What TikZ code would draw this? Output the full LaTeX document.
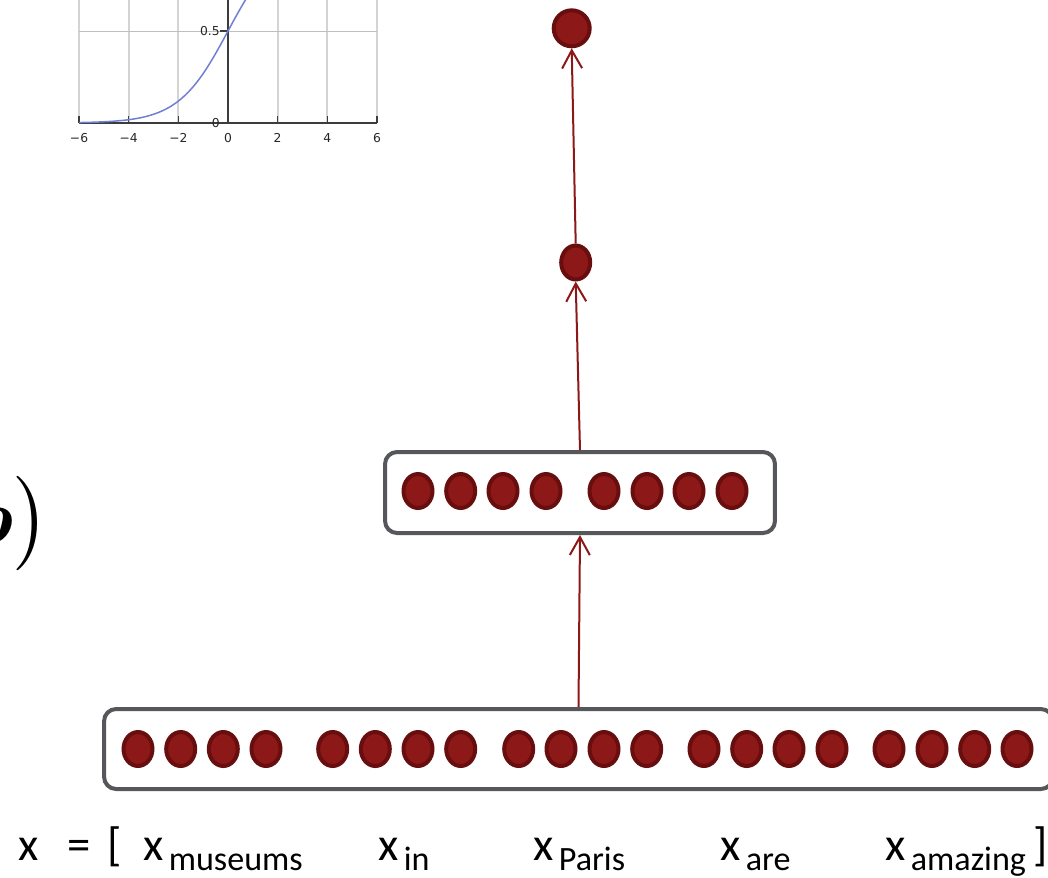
\documentclass[tikz,border=0pt]{standalone}
\usepackage{amsmath}
\usepackage{fontspec}
\setmainfont{Carlito}
\newfontfamily\plotfont{DejaVu Sans}
\usepackage{tikz}
\usetikzlibrary{arrows.meta}
\usetikzlibrary{positioning, shapes.geometric}

\definecolor{cellred}{RGB}{140,24,24}
\definecolor{celledge}{RGB}{104,14,14}
\definecolor{boxgray}{RGB}{86,87,91}
\definecolor{sigblue}{RGB}{110,128,210}
\definecolor{gridgray}{RGB}{212,212,212}
\definecolor{axisgray}{RGB}{60,60,60}

\newcommand{\wordsub}[1]{x\kern3pt\raisebox{-5.7pt}{\fontsize{19.4}{22}\selectfont #1}}

\tikzset{
    neuron/.style={ellipse, draw=celledge, fill=cellred, line width=0.08cm,
        minimum width=0.58cm, minimum height=0.68cm, inner sep=0pt},
    outneuron/.style={neuron, minimum width=0.72cm, minimum height=0.72cm},
    layerbox/.style={draw=boxgray, line width=0.08cm, rounded corners=0.24cm,
        inner sep=0pt},
    feedarrow/.style={draw=cellred, line width=0.04cm,
        -{Straight Barb[length=0.36cm, width=0.4cm, line width=0.04cm]}},
    lbl/.style={anchor=base west, inner sep=0pt, font=\fontsize{26.6}{30}\selectfont},
    ticklbl/.style={inner sep=0pt, text=black!85, font=\plotfont\fontsize{7}{8}\selectfont},
}

\begin{document}
\begin{tikzpicture}[x=0.02cm, y=-0.02cm]
    \path[use as bounding box, clip] (0,0) rectangle (1048,877);

    % logistic curve, top left
    \begin{scope}[shift={(228,123)}, x=0.4966cm, y=3.68cm]
        \foreach \v in {-6,-4,-2,2,4,6}
            \draw[gridgray, line width=0.04cm] (\v,0) -- (\v,0.8);
        \draw[black!25, line width=0.02cm] (-6,0.5) -- (6,0.5);
        \draw[axisgray, line width=0.035cm] (0,0) -- (0,0.8);
        \draw[axisgray, line width=0.03cm] (-6,0) -- (6,0);
        \foreach \v in {-6,-4,-2,2,4,6}
            \draw[axisgray, line width=0.03cm] (\v,0) -- (\v,0.038);
        \draw[axisgray, line width=0.03cm] (0,0) -- (-0.32,0);
        \draw[axisgray, line width=0.03cm] (0,0.5) -- (-0.32,0.5);
        \foreach \v/\t [count=\i] in {-6/{−6},-4/{−4},-2/{−2},0/0,2/2,4/4,6/6}
            \node[ticklbl] (tick\i) at (\v,-0.08) {\t};
        \node[ticklbl, anchor=east] (yhalf) at (-0.32,0.5) {0.5};
        \node[ticklbl, anchor=east] (yzero) at (-0.32,0) {0};
        \draw[sigblue, line width=0.03cm] plot[domain=-6:1.5, samples=90] (\x,{1/(1+exp(-\x))});
    \end{scope}

    % tail of the formula
    \node[anchor=base east, inner sep=0pt, scale=1.8, font=\fontsize{24.88}{30}\selectfont] (bias) at (50,543)
        {$\boldsymbol{b}\bigr)$};

    % layers
    \node[layerbox, minimum width=18.98cm, minimum height=1.6cm] (embbox) at (578.5,749) {};
    \foreach \px [count=\i] in {138,180.7,223.3,266,332.7,375.3,418,460.7,518.7,561,
                                604,646.7,704,746.7,789,832,889,932,974.7,1017}
        \node[neuron] (e\i) at (\px,749) {};

    \node[layerbox, minimum width=7.8cm, minimum height=1.62cm] (hidbox) at (580,492.5) {};
    \foreach \px [count=\i] in {418,460.7,503,546,604,647,689,732}
        \node[neuron] (h\i) at (\px,491) {};

    \node[neuron] (hid2) at (575.7,262.5) {};
    \node[outneuron] (out) at (571.7,28.3) {};

    \draw[feedarrow] (embbox.north) -- (hidbox.south);
    \draw[feedarrow] (hidbox.north) -- (hid2.south);
    \draw[feedarrow] (hid2.north) -- (out.south);

    % input words
    \node[lbl] (xvec) at (18,860) {x};
    \node[lbl] (xeq) at (67,860) {=};
    \node[lbl] (xopen) at (107,860) {[};
    \node[lbl] (wmuseums) at (143,860) {\wordsub{museums}};
    \node[lbl] (win) at (378,860) {\wordsub{in}};
    \node[lbl] (wparis) at (533,860) {\wordsub{Paris}};
    \node[lbl] (ware) at (720,860) {\wordsub{are}};
    \node[lbl] (wamazing) at (885,860) {\wordsub{amazing}};
    \node[lbl] (xclose) at (1033,860) {]};
\end{tikzpicture}
\end{document}
